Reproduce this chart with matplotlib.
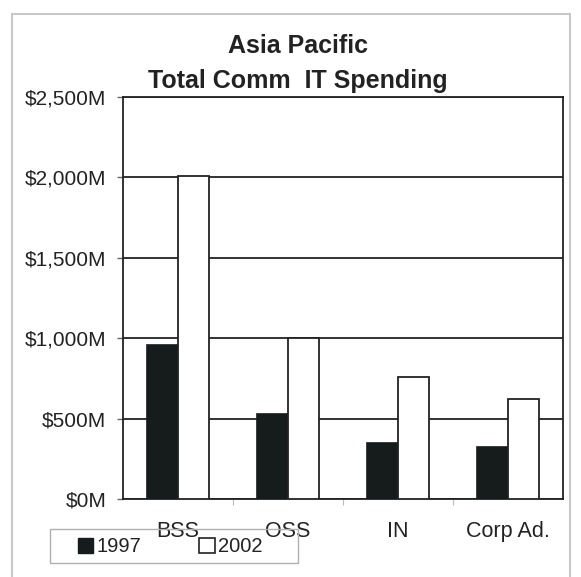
import matplotlib
matplotlib.use("Agg")
import matplotlib.pyplot as plt
from matplotlib.patches import Patch, Rectangle
from matplotlib.ticker import FuncFormatter, FixedLocator
import numpy as np

plt.rcParams['font.family'] = ['Liberation Sans', 'DejaVu Sans']

# spending per segment, $M
categories = ['BSS', 'OSS', 'IN', 'Corp Ad.']
spend_1997 = [960, 530, 350, 325]
spend_2002 = [2010, 1000, 760, 620]
years = ['1997', '2002']
y_ticks = [0, 500, 1000, 1500, 2000, 2500]

W, H = 581, 577
fig = plt.figure(figsize=(W / 100, H / 100), dpi=100)
ax = fig.add_axes([123 / W, 1 - 499 / H, (563 - 123) / W, (499 - 97) / H])

txt = '#222222'
ind = np.arange(len(categories))
bw = 0.28

ax.set_axisbelow(True)
ax.yaxis.grid(True, color='#222222', linewidth=1.3)
ax.bar(ind - bw / 2, spend_1997, width=bw, color='#161b1b',
       edgecolor='#161b1b', linewidth=1.2, zorder=3)
ax.bar(ind + bw / 2, spend_2002, width=bw, color='white',
       edgecolor='#222222', linewidth=1.3, zorder=3)

ax.set_xlim(-0.5, len(categories) - 0.5)
ax.set_ylim(0, 2500)
ax.set_yticks(y_ticks)
ax.yaxis.set_major_formatter(FuncFormatter(lambda v, p: '${:,.0f}M'.format(v)))
ax.set_xticks(ind)
ax.set_xticklabels(categories)
ax.xaxis.set_minor_locator(FixedLocator(ind[:-1] + 0.5))

ax.tick_params(axis='y', length=4, width=1, color='#666666', pad=8,
               labelsize=15, labelcolor=txt)
ax.tick_params(axis='x', which='major', length=0, pad=15.5,
               labelsize=15.5, labelcolor=txt)
ax.tick_params(axis='x', which='minor', length=4, width=0.8, color='#bbbbbb')

for s in ax.spines.values():
    s.set_color('#222222')
    s.set_linewidth(1.3)

# title, two lines
fig.text(298 / W, 1 - 46 / H, 'Asia Pacific', ha='center', va='center',
         fontsize=18, fontweight='bold', color=txt)
fig.text(298 / W, 1 - 81 / H, 'Total Comm  IT Spending', ha='center',
         va='center', fontsize=18, fontweight='bold', color=txt)

# legend entries without frame, frame drawn separately
handles = [Patch(facecolor='#161b1b', edgecolor='#161b1b'),
           Patch(facecolor='white', edgecolor='#222222', linewidth=1.2)]
leg = fig.legend(handles, years, ncol=2, loc='center left',
                 bbox_to_anchor=(60 / W, 1 - 547 / H),
                 bbox_transform=fig.transFigure, fontsize=14.5,
                 handlelength=0.75, handleheight=0.75, handletextpad=0.15,
                 columnspacing=2.9, frameon=False)
for t in leg.get_texts():
    t.set_color(txt)
fig.patches.append(Rectangle((50 / W, 1 - 563 / H), (298 - 50) / W, 34 / H,
                             transform=fig.transFigure, fill=False,
                             edgecolor='#b0b0b0', linewidth=1.0, zorder=0))

# outer chart frame
fig.patches.append(Rectangle((12 / W, -0.05), (570 - 12) / W, 1.05 - 14 / H,
                             transform=fig.transFigure, fill=False,
                             edgecolor='#c8c8c8', linewidth=1.5))

fig.savefig('out.png', dpi=100)
